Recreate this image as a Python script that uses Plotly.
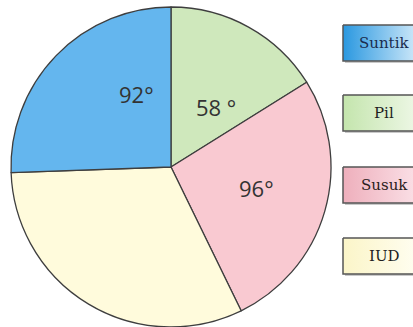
import plotly.graph_objects as go

# Contraceptive methods, central angle of each sector in degrees
methods = ["Suntik", "Pil", "Susuk", "IUD"]
degrees = [92, 58, 96, 114]
angle_labels = ["92°", "58 °", "96°", ""]

# Sector colours and legend box gradients
slice_colors = ["#64b6ee", "#cfe8bc", "#f9c9d1", "#fffbdc"]
box_gradients = [
    [[0, "#2a98e0"], [1, "#d4ebfa"]],
    [[0, "#c4e5ad"], [1, "#eff8e8"]],
    [[0, "#eeafbc"], [1, "#fbe2e8"]],
    [[0, "#fbf5c8"], [1, "#fffef2"]],
]
box_text_colors = ["#1b2b4e", "#1e1e1e", "#2a2020", "#1e1e1e"]

W, H = 413, 327

# Sectors run clockwise from 12 o'clock: Pil, Susuk, IUD, Suntik
pie_order = [1, 2, 3, 0]

fig = go.Figure()

fig.add_trace(go.Pie(
    labels=[methods[i] for i in pie_order],
    values=[degrees[i] for i in pie_order],
    sort=False,
    direction="clockwise",
    rotation=0,
    marker=dict(colors=[slice_colors[i] for i in pie_order],
                line=dict(color="#3e3e3e", width=1.3)),
    textinfo="none",
    hoverinfo="label+value",
    showlegend=False,
    domain=dict(x=[11 / W, 331 / W], y=[0, 320 / H]),
))

# Legend boxes (pixel coordinates on hidden axes)
box_left, box_right, box_h = 343, 440, 36
box_centers = [43, 113, 185, 256]
for name, cy, grad, tc in zip(methods, box_centers, box_gradients, box_text_colors):
    y0, y1 = cy - box_h / 2, cy + box_h / 2
    # soft drop shadow
    fig.add_shape(type="rect", x0=box_left + 2, x1=box_right, y0=y0 + 2, y1=y1 + 2,
                  xref="x", yref="y", fillcolor="#c9c9c9", line_width=0, layer="below")
    fig.add_trace(go.Scatter(
        x=[box_left, box_right, box_right, box_left, box_left],
        y=[y0, y0, y1, y1, y0],
        mode="lines", fill="toself",
        fillgradient=dict(type="horizontal", colorscale=grad,
                          start=box_left, stop=box_right - 20),
        line=dict(color="#555555", width=1.5),
        hoverinfo="skip", showlegend=False,
    ))
    fig.add_annotation(x=384, y=cy, xref="x", yref="y", text=name, showarrow=False,
                       font=dict(family="DejaVu Serif", size=15, color=tc),
                       xanchor="center", yanchor="middle")

# Angle labels inside the sectors
label_pos = {"Suntik": (136, 94), "Pil": (216, 107), "Susuk": (256, 188)}
for name, txt in zip(methods, angle_labels):
    if not txt:
        continue
    x, y = label_pos[name]
    fig.add_annotation(x=x, y=y, xref="x", yref="y", text=txt, showarrow=False,
                       font=dict(family="Open Sans", size=22, color="#333333"),
                       xanchor="center", yanchor="middle")

fig.update_layout(
    width=W, height=H,
    margin=dict(l=0, r=0, t=0, b=0),
    paper_bgcolor="white", plot_bgcolor="rgba(0,0,0,0)",
    xaxis=dict(range=[0, W], visible=False, fixedrange=True, domain=[0, 1]),
    yaxis=dict(range=[H, 0], visible=False, fixedrange=True, domain=[0, 1]),
    showlegend=False,
)

fig.write_html("out.html")
